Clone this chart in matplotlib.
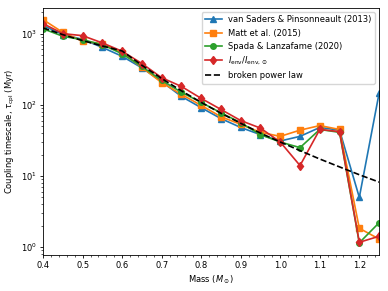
import matplotlib.pyplot as plt
from matplotlib.ticker import AutoMinorLocator

# stellar masses (solar units)
mass = [0.40, 0.45, 0.50, 0.55, 0.60, 0.65, 0.70, 0.75, 0.80,
        0.85, 0.90, 0.95, 1.00, 1.05, 1.10, 1.15, 1.20, 1.25]

# coupling timescales in Myr
vsp13 = [1300, 970, 830, 640, 480, 330, 212, 131, 91,
         64, 48, 38, 31, 36, 48, 44, 5.0, 145]
matt15 = [1570, 1040, 780, 720, 540, 335, 205, 140, 98,
          68, 53, 41, 36, 44, 51, 45, 1.84, 1.3]
spada20 = [1170, 917, 820, 700, 520, 345, 220, 150, 108,
           77, 56, 38, 30, 25, 45, 41, 1.15, 2.2]
ienv = [1380, 1000, 935, 740, 565, 380, 240, 181, 123,
        86, 60, 47, 30, 14, 45, 42, 1.17, 1.42]
bpl = [1200, 967, 798, 670, 570, 359, 234, 157, 108,
       76, 55, 40, 30, 22.7, 17.3, 13.4, 10.4, 8.2]

plt.rcParams['font.size'] = 6
plt.rcParams['axes.linewidth'] = 0.6
plt.rcParams['xtick.major.width'] = 0.6
plt.rcParams['ytick.major.width'] = 0.6
plt.rcParams['xtick.minor.width'] = 0.45
plt.rcParams['ytick.minor.width'] = 0.45
plt.rcParams['xtick.major.size'] = 2.5
plt.rcParams['ytick.major.size'] = 2.5
plt.rcParams['xtick.minor.size'] = 1.5
plt.rcParams['ytick.minor.size'] = 1.5
plt.rcParams['xtick.major.pad'] = 2
plt.rcParams['ytick.major.pad'] = 2

fig = plt.figure(figsize=(3.88, 2.91), dpi=100)
ax = fig.add_axes([0.111, 0.123, 0.866, 0.85])

ax.plot(mass, vsp13, marker='^', ms=4.5, lw=1.2, color='C0',
        label='van Saders & Pinsonneault (2013)')
ax.plot(mass, matt15, marker='s', ms=4, lw=1.2, color='C1',
        label='Matt et al. (2015)')
ax.plot(mass, spada20, marker='o', ms=4, lw=1.2, color='C2',
        label='Spada & Lanzafame (2020)')
ax.plot(mass, ienv, marker='d', ms=4.5, lw=1.2, color='C3',
        label=r'$I_{\rm env}/I_{\rm env,\odot}$')
ax.plot(mass, bpl, ls='--', lw=1.2, color='k', label='broken power law')

ax.set_yscale('log')
ax.set_xlim(0.4, 1.25)
ax.set_ylim(0.77, 2300)
ax.xaxis.set_minor_locator(AutoMinorLocator(5))

ax.set_xlabel(r'Mass ($M_\odot$)', labelpad=2)
ax.set_ylabel(r'Coupling timescale, $\tau_{\rm cpl}$ (Myr)', labelpad=3)
ax.legend(loc='upper right', fontsize=6)

fig.savefig('out.png', dpi=100)
